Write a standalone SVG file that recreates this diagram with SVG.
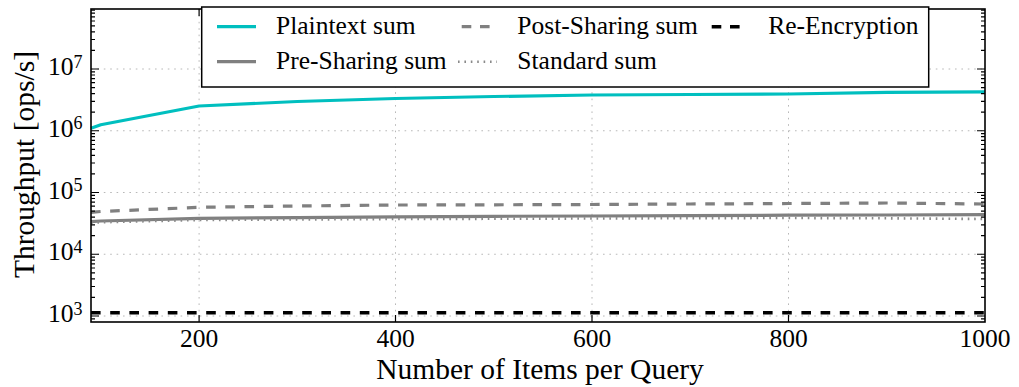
<svg xmlns="http://www.w3.org/2000/svg" width="1019" height="387" viewBox="0 0 1019 387">
<style>
text{font-family:"Liberation Serif","Times New Roman",serif;fill:#000}
.tick{font-size:25.5px}
.sup{font-size:18px}
.lab{font-size:29.5px}
.leg{font-size:25.5px}
.grid{stroke:#b0b0b0;stroke-width:0.9;stroke-dasharray:1.6 4.8;fill:none}
.frame{fill:none;stroke:#000;stroke-width:1.6}
.ticks{fill:none;stroke:#000;stroke-width:1.2}
.plain{fill:none;stroke:#00bfbf;stroke-width:3.2;stroke-linejoin:round}
.pre{fill:none;stroke:#808080;stroke-width:3.2;stroke-linejoin:round}
.post{fill:none;stroke:#808080;stroke-width:3.2;stroke-dasharray:9.6 9.6}
.std{fill:none;stroke:#8a8a8a;stroke-width:2.6;stroke-dasharray:1.6 4.8}
.reenc{fill:none;stroke:#000;stroke-width:3.4;stroke-dasharray:9.6 9.6}
</style>
<rect width="1019" height="387" fill="#fff"/>
<g id="grid">
<path class="grid" d="M199.1 9V322M395.5 9V322M592 9V322M788.5 9V322M91 316H985M91 254.25H985M91 192.5H985M91 130.75H985M91 69H985"/>
</g>
<g id="series">
<polyline class="plain" points="91,128.3 100.8,124.7 199.1,106 297.3,101.5 395.5,98.5 493.8,96.5 592,95 690.3,94.5 788.5,94 886.8,92.3 985,91.8"/>
<polyline class="pre" points="91,221.7 100.8,221 199.1,218.3 297.3,217.6 395.5,216.8 493.8,216.3 592,216 690.3,215.6 788.5,215.2 886.8,215 985,214.7"/>
<polyline class="post" points="91,212.3 100.8,211.5 199.1,207.3 297.3,206 395.5,205 493.8,204.8 592,204.5 690.3,204 788.5,203.5 886.8,203 985,204"/>
<polyline class="std" points="91,222.8 100.8,222.3 199.1,220 297.3,219.5 395.5,219 493.8,218.8 592,218.5 690.3,218.2 788.5,218 886.8,218.3 985,219"/>
<line class="reenc" x1="91" y1="312.7" x2="985" y2="312.7"/>
</g>
<g id="axes">
<rect class="frame" x="91" y="9" width="894" height="313"/>
<path class="ticks" d="M199.1 322v-7M395.5 322v-7M592 322v-7M788.5 322v-7M199.1 9v7M395.5 9v7M592 9v7M788.5 9v7
M91 316h8M91 254.25h8M91 192.5h8M91 130.75h8M91 69h8
M985 316h-8M985 254.25h-8M985 192.5h-8M985 130.75h-8M985 69h-8
M91 318.8h4M91 297.4h4M91 286.5h4M91 278.8h4M91 272.8h4M91 268h4M91 263.8h4M91 260.2h4M91 257.1h4
M91 235.7h4M91 224.8h4M91 217.1h4M91 211.1h4M91 206.2h4M91 202.1h4M91 198.5h4M91 195.3h4
M91 173.9h4M91 163h4M91 155.3h4M91 149.3h4M91 144.5h4M91 140.3h4M91 136.7h4M91 133.6h4
M91 112.2h4M91 101.3h4M91 93.6h4M91 87.6h4M91 82.7h4M91 78.6h4M91 75h4M91 71.8h4
M91 50.4h4M91 39.5h4M91 31.8h4M91 25.8h4M91 21h4M91 16.8h4M91 13.2h4M91 10.1h4
M985 318.8h-4M985 297.4h-4M985 286.5h-4M985 278.8h-4M985 272.8h-4M985 268h-4M985 263.8h-4M985 260.2h-4M985 257.1h-4
M985 235.7h-4M985 224.8h-4M985 217.1h-4M985 211.1h-4M985 206.2h-4M985 202.1h-4M985 198.5h-4M985 195.3h-4
M985 173.9h-4M985 163h-4M985 155.3h-4M985 149.3h-4M985 144.5h-4M985 140.3h-4M985 136.7h-4M985 133.6h-4
M985 112.2h-4M985 101.3h-4M985 93.6h-4M985 87.6h-4M985 82.7h-4M985 78.6h-4M985 75h-4M985 71.8h-4
M985 50.4h-4M985 39.5h-4M985 31.8h-4M985 25.8h-4M985 21h-4M985 16.8h-4M985 13.2h-4M985 10.1h-4"/>
<g class="tick" text-anchor="middle">
<text x="199.1" y="346.5">200</text>
<text x="395.5" y="346.5">400</text>
<text x="592" y="346.5">600</text>
<text x="788.5" y="346.5">800</text>
<text x="985" y="346.5">1000</text>
</g>
<g class="tick">
<text x="48" y="322">10<tspan class="sup" dy="-7.5">3</tspan></text>
<text x="48" y="260.25">10<tspan class="sup" dy="-7.5">4</tspan></text>
<text x="48" y="198.5">10<tspan class="sup" dy="-7.5">5</tspan></text>
<text x="48" y="136.75">10<tspan class="sup" dy="-7.5">6</tspan></text>
<text x="48" y="75">10<tspan class="sup" dy="-7.5">7</tspan></text>
</g>
<text class="lab" x="540" y="378.5" text-anchor="middle">Number of Items per Query</text>
<text class="lab" text-anchor="middle" transform="translate(33.5 164.5) rotate(-90)">Throughput [ops/s]</text>
</g>
<g id="legend">
<rect x="201.7" y="7" width="727" height="80" fill="#fff" stroke="#000" stroke-width="1.5"/>
<line class="plain" x1="217" y1="26.7" x2="256" y2="26.7"/>
<text class="leg" x="276" y="34">Plaintext sum</text>
<line class="pre" x1="217" y1="61.7" x2="256" y2="61.7"/>
<text class="leg" x="276" y="69">Pre-Sharing sum</text>
<line class="post" x1="461.7" y1="26.7" x2="490" y2="26.7" style="stroke-dasharray:9.6 8.7"/>
<text class="leg" x="517.3" y="34">Post-Sharing sum</text>
<line class="std" x1="458" y1="61.7" x2="497" y2="61.7"/>
<text class="leg" x="517.3" y="69">Standard sum</text>
<line class="reenc" x1="711.7" y1="26.7" x2="740" y2="26.7" style="stroke-dasharray:9.6 8.7"/>
<text class="leg" x="768.3" y="34">Re-Encryption</text>
</g>
</svg>
